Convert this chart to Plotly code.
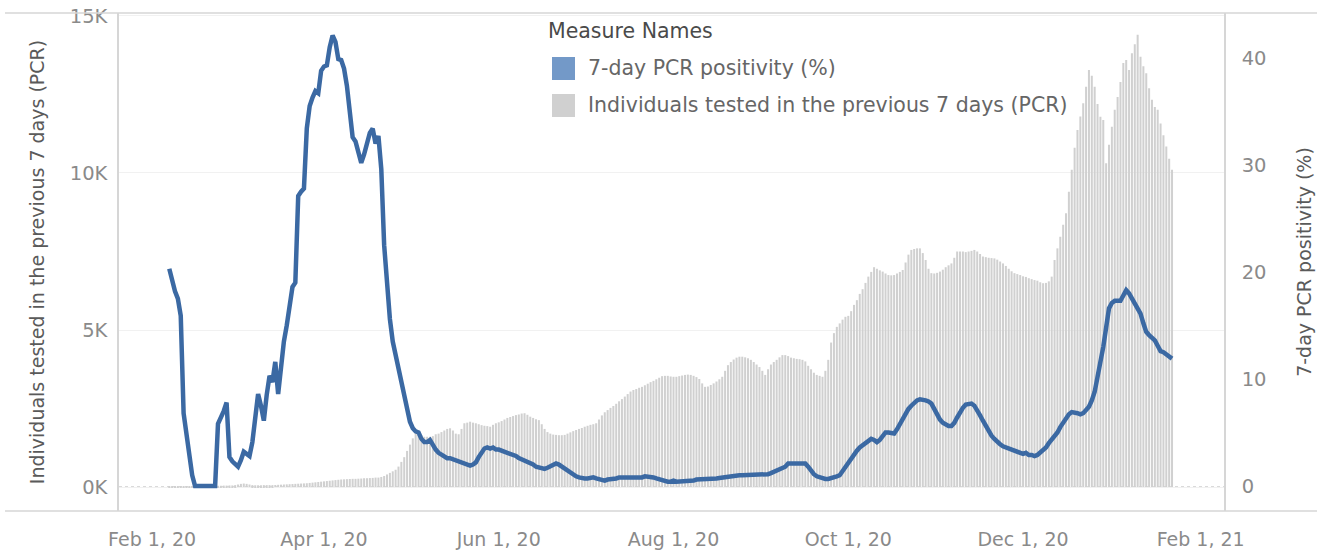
import pandas as pd
import plotly.graph_objects as go

# ---------------- data ----------------
start_date = "2020-02-07"

# Individuals tested in the previous 7 days (PCR), daily, Feb 7 2020 -> Jan 22 2021
tested = [
    # Feb (7-29)
    20, 25, 25, 25, 30, 30, 30, 30, 30, 35, 35, 35, 35, 35, 40, 40, 40, 40, 40, 45, 45, 50, 50,
    # Mar
    60, 80, 100, 110, 100, 80, 60, 55, 55, 55, 60, 60, 60, 60, 65, 70, 75, 80, 85, 90,
    95, 100, 105, 110, 115, 120, 130, 140, 150, 160, 170,
    # Apr
    180, 190, 200, 210, 220, 230, 240, 245, 250, 255, 260, 260, 265, 270, 280, 280, 285, 290, 300, 300,
    320, 350, 400, 450, 500, 550, 650, 800, 950, 1150,
    # May
    1350, 1550, 1720, 1700, 1650, 1600, 1600, 1600, 1620, 1680, 1700, 1750, 1800, 1850, 1870, 1800,
    1700, 1680, 1850, 2030, 2050, 2080, 2050, 2030, 2000, 1970, 1950, 1940, 1920, 1980, 2030,
    # Jun
    2060, 2100, 2150, 2200, 2230, 2260, 2290, 2310, 2340, 2350, 2300, 2240, 2200, 2160, 2130, 2000,
    1850, 1750, 1700, 1670, 1660, 1650, 1650, 1660, 1700, 1740, 1780, 1815, 1850, 1880,
    # Jul
    1920, 1950, 1980, 2000, 2030, 2150, 2280, 2380, 2450, 2520, 2580, 2650, 2730, 2800, 2880, 2960,
    3040, 3090, 3120, 3160, 3190, 3240, 3290, 3340, 3380, 3430, 3480, 3530, 3540, 3540, 3520,
    # Aug
    3510, 3510, 3530, 3550, 3570, 3580, 3570, 3540, 3500, 3440, 3300, 3190, 3200, 3250, 3300, 3360,
    3430, 3510, 3700, 3880, 3980, 4060, 4120, 4150, 4150, 4130, 4100, 4050, 3980, 3900, 3820,
    # Sep
    3700, 3570, 3750, 3900, 3980, 4050, 4130, 4200, 4200, 4170, 4120, 4100, 4080, 4070, 4050, 4000,
    3860, 3750, 3640, 3570, 3540, 3510, 3700, 4050, 4600, 4900, 5100, 5210, 5330, 5420,
    # Oct
    5450, 5600, 5800, 5950, 6150, 6300, 6500, 6700, 6850, 7000, 6950, 6900, 6860, 6800, 6750, 6740,
    6750, 6800, 6850, 6910, 7150, 7400, 7550, 7580, 7600, 7600, 7450, 7230, 6950, 6810, 6800,
    # Nov
    6820, 6860, 6920, 7000, 7060, 7120, 7300, 7500, 7500, 7500, 7480, 7500, 7520, 7550, 7500, 7420,
    7340, 7320, 7300, 7290, 7280, 7240, 7180, 7120, 7040, 6950, 6870, 6810, 6780, 6750,
    # Dec
    6710, 6690, 6650, 6620, 6590, 6570, 6520, 6490, 6500, 6550, 6700, 7230, 7600, 7970, 8350, 8720,
    9400, 10100, 10800, 11370, 11800, 12220, 12750, 13280, 13100, 12750, 12200, 11790, 11690, 10310, 10900,
    # Jan (1-22)
    11470, 12010, 12420, 12900, 13500, 13600, 13280, 13810, 14100, 14400, 13700, 13400, 13180, 12700,
    12330, 12100, 12010, 11580, 11200, 10840, 10450, 10100,
]

# 7-day PCR positivity (%), daily, Feb 7 2020 -> Jan 22 2021
positivity = [
    # Feb (7-29)
    20.3, 19.0, 18.2, 17.5, 15.9, 6.8, 5.0, 3.2, 1.0, 0, 0, 0, 0, 0, 0, 0, 0, 5.8, 6.3, 7.0, 7.8, 2.7, 2.3,
    # Mar
    2.0, 1.8, 2.4, 3.2, 3.0, 2.8, 4.1, 6.5, 8.6, 7.5, 6.1, 8.5, 10.3, 9.7, 11.6, 8.6, 11.2, 13.5,
    15.0, 16.5, 18.6, 19.0, 27.1, 27.5, 27.8, 33.4, 35.5, 36.3, 36.9, 36.7, 38.8,
    # Apr
    39.2, 39.3, 41.0, 42.1, 41.5, 39.9, 39.8, 39.0, 37.4, 35.0, 32.6, 32.2, 31.2, 30.2, 31.0, 32.0,
    33.0, 33.4, 32.0, 32.7, 29.6, 22.5, 18.5, 15.6, 13.5, 12.2, 10.9, 9.6, 8.4, 7.2,
    # May
    6.0, 5.4, 5.1, 5.0, 4.4, 4.1, 4.1, 4.3, 3.8, 3.4, 3.1, 2.9, 2.7, 2.6, 2.6, 2.5, 2.4, 2.3, 2.2,
    2.0, 1.9, 1.9, 2.0, 2.2, 2.7, 3.2, 3.5, 3.6, 3.5, 3.6, 3.4,
    # Jun
    3.4, 3.3, 3.3, 3.1, 3.0, 2.9, 2.8, 2.6, 2.5, 2.3, 2.2, 2.1, 2.0, 1.8, 1.7, 1.7, 1.6, 1.7, 1.8,
    2.0, 2.1, 2.0, 1.8, 1.6, 1.4, 1.2, 1.0, 0.9, 0.8, 0.7,
    # Jul
    0.7, 0.7, 0.8, 0.8, 0.7, 0.6, 0.5, 0.5, 0.6, 0.6, 0.7, 0.7, 0.8, 0.8, 0.8, 0.7, 0.7, 0.7, 0.7,
    0.8, 0.8, 0.9, 0.9, 0.8, 0.8, 0.7, 0.6, 0.5, 0.4, 0.4, 0.4,
    # Aug
    0.5, 0.4, 0.4, 0.4, 0.4, 0.5, 0.5, 0.5, 0.6, 0.6, 0.6, 0.6, 0.65, 0.7, 0.7, 0.7, 0.75, 0.8, 0.8,
    0.85, 0.9, 0.9, 0.95, 1.0, 1.0, 1.0, 1.0, 1.0, 1.05, 1.05, 1.1,
    # Sep
    1.1, 1.1, 1.1, 1.2, 1.3, 1.4, 1.5, 1.6, 1.8, 2.1, 2.1, 2.2, 2.2, 2.2, 2.1, 2.1, 1.8, 1.4, 1.1,
    0.9, 0.8, 0.7, 0.65, 0.65, 0.7, 0.8, 0.9, 1.0, 1.4, 1.7,
    # Oct
    2.1, 2.5, 2.9, 3.3, 3.6, 3.8, 4.0, 4.2, 4.4, 4.3, 4.1, 4.3, 4.7, 5.0, 5.0, 4.9, 4.9, 5.3, 5.8,
    6.3, 6.8, 7.2, 7.5, 7.8, 8.0, 8.1, 8.1, 8.0, 7.9, 7.7, 7.2,
    # Nov
    6.6, 6.2, 5.9, 5.7, 5.6, 5.6, 5.9, 6.4, 6.9, 7.3, 7.6, 7.7, 7.7, 7.5, 7.1, 6.6, 6.1, 5.6, 5.1,
    4.7, 4.4, 4.1, 3.9, 3.7, 3.6, 3.5, 3.4, 3.3, 3.2, 3.1,
    # Dec
    3.0, 3.1, 2.9, 2.9, 2.8, 2.9, 3.1, 3.3, 3.6, 4.0, 4.3, 4.6, 5.0, 5.5, 5.9, 6.3, 6.7, 6.9, 6.9,
    6.8, 6.7, 6.8, 7.1, 7.4, 8.0, 8.8, 10.2, 11.5, 13.0, 14.8, 16.6,
    # Jan (1-22)
    17.1, 17.3, 17.3, 17.3, 17.8, 18.3, 18.0, 17.5, 17.0, 16.5, 16.1, 15.2, 14.4, 14.1, 13.8, 13.6,
    13.1, 12.6, 12.5, 12.3, 12.1, 11.9,
]

x_tick_dates = ["2020-02-01", "2020-04-01", "2020-06-01", "2020-08-01",
                "2020-10-01", "2020-12-01", "2021-02-01"]
left_tick_values = [0, 5000, 10000, 15000]
left_tick_labels = ["0K", "5K", "10K", "15K"]
right_tick_values = [0, 10, 20, 30, 40]

series_names = ["7-day PCR positivity (%)",
                "Individuals tested in the previous 7 days (PCR)"]
left_title = "Individuals tested in the previous 7 days (PCR)"
right_title = "7-day PCR positivity (%)"
legend_title = "Measure Names"

dates_tested = pd.date_range(start_date, periods=len(tested), freq="D")
dates_pos = pd.date_range(start_date, periods=len(positivity), freq="D")

# ---------------- styling ----------------
W, H = 1317, 553
L, R, T, B = 119, 1224, 13, 511          # plot area in pixels
FONT = "DejaVu Sans, Open Sans, sans-serif"
LINE_BLUE = "#3b69a3"
SWATCH_BLUE = "#7399c8"
BAR_GREY = "#d0d0d0"
TICK_GREY = "#8a8a8a"
TITLE_GREY = "#5a5a5a"
BORDER = "#d6d6d6"


def px_x(x):
    return (x - L) / (R - L)


def px_y(y):
    return (B - y) / (B - T)


fig = go.Figure()
fig.add_trace(go.Bar(
    x=dates_tested, y=tested, name=series_names[1],
    marker=dict(color=BAR_GREY, line=dict(width=0)),
    yaxis="y", showlegend=False,
))
fig.add_trace(go.Scatter(
    x=dates_pos, y=positivity, name=series_names[0], mode="lines",
    line=dict(color=LINE_BLUE, width=4.5),
    yaxis="y2", showlegend=False,
))

fig.update_layout(
    width=W, height=H,
    margin=dict(l=L, r=W - R, t=T, b=H - B, autoexpand=False),
    paper_bgcolor="white", plot_bgcolor="white",
    bargap=0.3,
    font=dict(family=FONT, color=TICK_GREY, size=19),
    showlegend=False,
    xaxis=dict(
        type="date",
        range=["2020-01-20 10:48", "2021-02-09 03:22"],
        tickvals=x_tick_dates, tickformat="%b %-d, %y",
        showgrid=False, zeroline=False, showline=False, ticks="",
        tickfont=dict(size=19, color=TICK_GREY),
        ticklabelstandoff=15,
    ),
    yaxis=dict(
        range=[-764, 15095],
        tickvals=left_tick_values, ticktext=left_tick_labels,
        showgrid=True, gridcolor="#f1f1f1", gridwidth=1,
        zeroline=False, showline=True, linecolor=BORDER, linewidth=1.5,
        ticks="", ticklabelstandoff=6,
        tickfont=dict(size=19.5, color=TICK_GREY),
        title=dict(text=left_title, font=dict(size=19, color=TITLE_GREY), standoff=20),
        automargin=False,
    ),
    yaxis2=dict(
        range=[-2.34, 44.2], overlaying="y", side="right",
        tickvals=right_tick_values,
        showgrid=False, zeroline=False, showline=True, linecolor=BORDER, linewidth=1.5,
        ticks="", ticklabelstandoff=12,
        tickfont=dict(size=19.5, color=TICK_GREY),
        title=dict(text=right_title, font=dict(size=19, color=TITLE_GREY), standoff=32),
        automargin=False,
    ),
)

shapes = [
    # dotted zero line
    dict(type="line", xref="paper", yref="y", x0=0, x1=1, y0=0, y1=0,
         line=dict(color="#b5b5b5", width=1.2, dash="dot"), layer="below"),
    # pane top / bottom borders spanning the whole view
    dict(type="line", xref="paper", yref="paper", x0=px_x(5), x1=px_x(1317), y0=1, y1=1,
         line=dict(color=BORDER, width=1.5)),
    dict(type="line", xref="paper", yref="paper", x0=px_x(5), x1=px_x(1317), y0=0, y1=0,
         line=dict(color=BORDER, width=1.5)),
    # legend swatches
    dict(type="rect", xref="paper", yref="paper", x0=px_x(552), x1=px_x(575),
         y0=px_y(80), y1=px_y(57), fillcolor=SWATCH_BLUE, line=dict(width=0)),
    dict(type="rect", xref="paper", yref="paper", x0=px_x(552), x1=px_x(575),
         y0=px_y(117), y1=px_y(94), fillcolor=BAR_GREY, line=dict(width=0)),
]
fig.update_layout(shapes=shapes)

annotations = [
    dict(text=legend_title, x=px_x(546), y=px_y(31), xref="paper", yref="paper",
         xanchor="left", yanchor="middle", showarrow=False,
         font=dict(size=20.5, color="#4a4a4a", family=FONT)),
    dict(text=series_names[0], x=px_x(586), y=px_y(68), xref="paper", yref="paper",
         xanchor="left", yanchor="middle", showarrow=False,
         font=dict(size=20.5, color="#666666", family=FONT)),
    dict(text=series_names[1], x=px_x(586), y=px_y(105), xref="paper", yref="paper",
         xanchor="left", yanchor="middle", showarrow=False,
         font=dict(size=20.5, color="#666666", family=FONT)),
]
fig.update_layout(annotations=annotations)

fig.write_html(
    "out.html",
    config={"displayModeBar": False},
    post_script="document.body.style.margin='0px';document.body.style.overflow='hidden';",
)
